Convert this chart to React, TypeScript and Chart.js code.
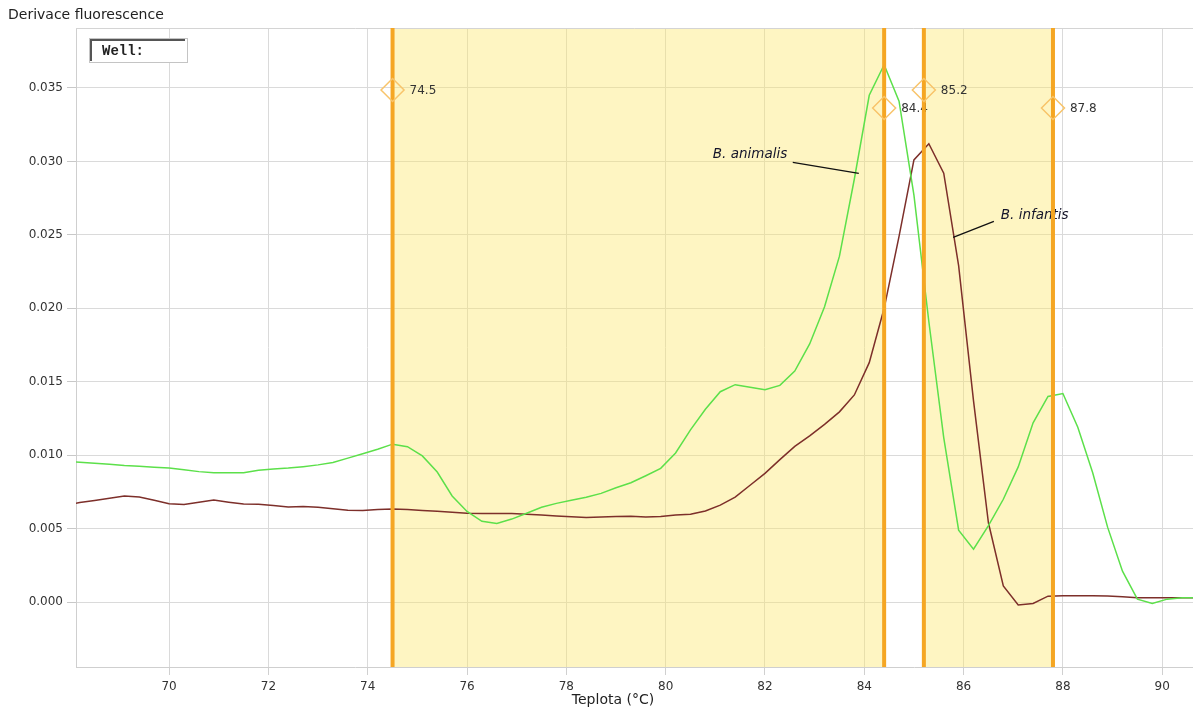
import { useEffect, useRef } from 'react';
import { Chart, registerables } from 'chart.js';

Chart.register(...registerables);

// Temperature samples (°C)
const TEMPS = [
  67.9, 68.2, 68.5, 68.8, 69.1, 69.4, 69.7, 70.0, 70.3, 70.6,
  70.9, 71.2, 71.5, 71.8, 72.1, 72.4, 72.7, 73.0, 73.3, 73.6,
  73.9, 74.2, 74.5, 74.8, 75.1, 75.4, 75.7, 76.0, 76.3, 76.6,
  76.9, 77.2, 77.5, 77.8, 78.1, 78.4, 78.7, 79.0, 79.3, 79.6,
  79.9, 80.2, 80.5, 80.8, 81.1, 81.4, 81.7, 82.0, 82.3, 82.6,
  82.9, 83.2, 83.5, 83.8, 84.1, 84.4, 84.7, 85.0, 85.3, 85.6,
  85.9, 86.2, 86.5, 86.8, 87.1, 87.4, 87.7, 88.0, 88.3, 88.6,
  88.9, 89.2, 89.5, 89.8, 90.1, 90.4, 90.7,
];

// B. animalis (green)
const ANIMALIS = [
  0.0096, 0.00952, 0.00945, 0.00938, 0.0093, 0.00925, 0.00918, 0.00912, 0.009, 0.00888,
  0.0088, 0.0088, 0.0088, 0.00897, 0.00906, 0.00912, 0.00922, 0.00934, 0.0095, 0.0098,
  0.0101, 0.0104, 0.01075, 0.01058, 0.00995, 0.00885, 0.00722, 0.00617, 0.0055, 0.00535,
  0.00565, 0.00605, 0.00645, 0.00672, 0.00693, 0.00714, 0.0074, 0.00778, 0.00812, 0.0086,
  0.0091, 0.01015, 0.01172, 0.01313, 0.01432, 0.0148, 0.01462, 0.01445, 0.01475, 0.01572,
  0.01757, 0.0201, 0.02355, 0.0288, 0.0345, 0.03658, 0.0341, 0.0277, 0.0191, 0.0112,
  0.0049, 0.0036, 0.0052, 0.007, 0.0092, 0.0122, 0.014, 0.0142, 0.0119, 0.0088,
  0.0051, 0.0021, 0.0002, -0.0001, 0.0002, 0.0003, 0.0003,
];

// B. infantis (brown)
const INFANTIS = [
  0.0066, 0.00678, 0.00692, 0.00706, 0.00722, 0.00716, 0.00693, 0.0067, 0.00665, 0.0068,
  0.00694, 0.0068, 0.00667, 0.00666, 0.00658, 0.00648, 0.0065, 0.00646, 0.00635, 0.00625,
  0.00623, 0.0063, 0.00634, 0.0063, 0.00624, 0.00618, 0.00611, 0.00605, 0.00603, 0.00603,
  0.00603, 0.00598, 0.00592, 0.00586, 0.00581, 0.00576, 0.00579, 0.00582, 0.00584, 0.00579,
  0.00582, 0.00593, 0.00598, 0.0062, 0.0066, 0.00714, 0.00795, 0.00876, 0.0097, 0.0106,
  0.01132, 0.0121, 0.01295, 0.0141, 0.0163, 0.02, 0.0249, 0.0301, 0.0312, 0.0292,
  0.0229, 0.0137, 0.0054, 0.0011, -0.0002, -0.0001, 0.0004, 0.00043, 0.00043, 0.00043,
  0.00042, 0.00036, 0.0003, 0.00029, 0.00029, 0.00029, 0.00029,
];

const X_TICKS = [70, 72, 74, 76, 78, 80, 82, 84, 86, 88, 90];
const Y_TICKS = [0, 0.005, 0.01, 0.015, 0.02, 0.025, 0.03, 0.035];
const MARKERS = [74.5, 84.4, 85.2, 87.8];
const REGIONS = [
  [74.5, 84.4],
  [85.2, 87.8],
];
const SERIES_NAMES = ['B. animalis', 'B. infantis'];

const X_MIN = 68.125;
const X_MAX = 90.62;
const Y_MIN = -0.00442;
const Y_MAX = 0.03908;

// annotation placement (data coordinates)
const ANNOTATIONS = [
  { text: SERIES_NAMES[0], tx: 80.95, ty: 0.03048, x1: 82.56, y1: 0.02993, x2: 83.89, y2: 0.02918 },
  { text: SERIES_NAMES[1], tx: 86.75, ty: 0.02633, x1: 86.61, y1: 0.02592, x2: 85.79, y2: 0.02483 },
];

const overlayPlugin = {
  id: 'overlay',
  beforeDatasetsDraw(chart: any) {
    const { ctx, chartArea } = chart;
    const { top, bottom, left, right } = chartArea;
    const x = chart.scales.x;
    ctx.save();
    ctx.beginPath();
    ctx.rect(left, top, right - left, bottom - top);
    ctx.clip();
    ctx.fillStyle = 'rgba(252, 230, 110, 0.42)';
    for (const [a, b] of REGIONS) {
      const xa = x.getPixelForValue(a);
      const xb = x.getPixelForValue(b);
      ctx.fillRect(xa, top, xb - xa, bottom - top);
    }
    // top border
    ctx.strokeStyle = '#d4d4d4';
    ctx.lineWidth = 1;
    ctx.beginPath();
    ctx.moveTo(left, top + 0.5);
    ctx.lineTo(right, top + 0.5);
    ctx.stroke();
    ctx.restore();
  },
  afterDatasetsDraw(chart: any) {
    const { ctx, chartArea } = chart;
    const { top, bottom } = chartArea;
    const x = chart.scales.x;
    const y = chart.scales.y;
    ctx.save();
    // annotations
    ctx.font = 'italic 13.5px "DejaVu Sans"';
    ctx.fillStyle = '#15152a';
    ctx.textBaseline = 'middle';
    ctx.textAlign = 'left';
    ctx.strokeStyle = '#111';
    ctx.lineWidth = 1.3;
    for (const a of ANNOTATIONS) {
      ctx.fillText(a.text, x.getPixelForValue(a.tx), y.getPixelForValue(a.ty));
      ctx.beginPath();
      ctx.moveTo(x.getPixelForValue(a.x1), y.getPixelForValue(a.y1));
      ctx.lineTo(x.getPixelForValue(a.x2), y.getPixelForValue(a.y2));
      ctx.stroke();
    }
    // marker lines
    MARKERS.forEach((m, i) => {
      const px = x.getPixelForValue(m);
      ctx.strokeStyle = '#f5a623';
      ctx.lineWidth = 4;
      ctx.beginPath();
      ctx.moveTo(px, top);
      ctx.lineTo(px, bottom);
      ctx.stroke();
      const cy = top + (i % 2 === 0 ? 62 : 80);
      const r = 11.5;
      ctx.strokeStyle = '#f8c46a';
      ctx.lineWidth = 1.5;
      ctx.beginPath();
      ctx.moveTo(px, cy - r);
      ctx.lineTo(px + r, cy);
      ctx.lineTo(px, cy + r);
      ctx.lineTo(px - r, cy);
      ctx.closePath();
      ctx.stroke();
      ctx.fillStyle = '#333';
      ctx.font = '12px "DejaVu Sans"';
      ctx.textBaseline = 'middle';
      ctx.fillText(m.toFixed(1), px + 17, cy + 1);
    });
    ctx.restore();
  },
  afterDraw(chart: any) {
    const { ctx, chartArea } = chart;
    ctx.save();
    ctx.fillStyle = '#222';
    ctx.font = '14px "DejaVu Sans"';
    ctx.textBaseline = 'middle';
    ctx.textAlign = 'left';
    ctx.fillText('Derivace fluorescence', 8, 15);
    ctx.textAlign = 'center';
    ctx.fillText('Teplota (°C)', 613, 700);
    // Well box
    const bx = chartArea.left + 13;
    const by = chartArea.top + 10;
    ctx.fillStyle = '#fff';
    ctx.fillRect(bx, by, 98, 24);
    ctx.strokeStyle = '#c4c4c4';
    ctx.lineWidth = 1;
    ctx.strokeRect(bx + 0.5, by + 0.5, 98, 24);
    ctx.strokeStyle = '#555';
    ctx.lineWidth = 2;
    ctx.beginPath();
    ctx.moveTo(bx + 2, by + 23);
    ctx.lineTo(bx + 2, by + 2);
    ctx.lineTo(bx + 96, by + 2);
    ctx.stroke();
    ctx.fillStyle = '#222';
    ctx.textAlign = 'left';
    ctx.font = 'bold 14px "Liberation Mono"';
    ctx.fillText('Well:', bx + 13, by + 13);
    ctx.restore();
  },
};

export default function App() {
  const canvasRef = useRef<HTMLCanvasElement | null>(null);

  useEffect(() => {
    document.body.style.margin = '0';
    const canvas = canvasRef.current;
    if (!canvas) return;
    const chart = new Chart(canvas, {
      type: 'line',
      data: {
        datasets: [
          {
            label: SERIES_NAMES[0],
            data: TEMPS.map((t, i) => ({ x: t, y: ANIMALIS[i] })),
            borderColor: '#5ce04a',
            borderWidth: 1.5,
            pointRadius: 0,
            tension: 0,
            fill: false,
          },
          {
            label: SERIES_NAMES[1],
            data: TEMPS.map((t, i) => ({ x: t, y: INFANTIS[i] })),
            borderColor: '#7d2f2a',
            borderWidth: 1.5,
            pointRadius: 0,
            tension: 0,
            fill: false,
          },
        ],
      },
      options: {
        animation: false,
        responsive: false,
        devicePixelRatio: 1,
        layout: { padding: { top: 28, right: 0, left: 0, bottom: 0 } },
        plugins: {
          legend: { display: false },
          tooltip: { enabled: false },
        },
        scales: {
          x: {
            type: 'linear',
            min: X_MIN,
            max: X_MAX,
            afterBuildTicks: (scale: any) => {
              scale.ticks = X_TICKS.map((v) => ({ value: v }));
            },
            afterFit: (scale: any) => {
              scale.height = 42;
            },
            grid: {
              color: '#dadada',
              tickColor: '#d0d0d0',
              tickLength: 8,
              lineWidth: 1,
            },
            border: { display: true, color: '#cfcfcf' },
            ticks: {
              padding: 5,
              maxRotation: 0,
              color: '#333',
              font: { family: 'DejaVu Sans', size: 12 },
              callback: (v: any) => String(v),
            },
          },
          y: {
            type: 'linear',
            min: Y_MIN,
            max: Y_MAX,
            afterBuildTicks: (scale: any) => {
              scale.ticks = Y_TICKS.map((v) => ({ value: v }));
            },
            afterFit: (scale: any) => {
              scale.width = 76;
            },
            grid: {
              color: '#dadada',
              tickColor: '#c8c8c8',
              tickLength: 9,
              lineWidth: 1,
            },
            border: { display: true, color: '#cfcfcf' },
            ticks: {
              padding: 4,
              color: '#333',
              font: { family: 'DejaVu Sans', size: 12 },
              callback: (v: any) => Number(v).toFixed(3),
            },
          },
        },
      },
      plugins: [overlayPlugin],
    } as any);
    return () => chart.destroy();
  }, []);

  return (
    <div style={{ position: 'fixed', left: 0, top: 0, width: 1193, height: 709, background: '#fff' }}>
      <canvas ref={canvasRef} width={1193} height={709} style={{ display: 'block' }} />
    </div>
  );
}
